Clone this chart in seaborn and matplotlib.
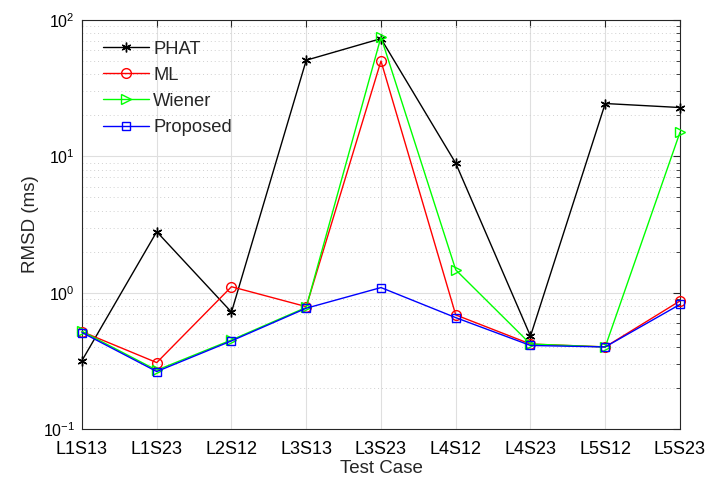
import matplotlib
matplotlib.use("Agg")
import matplotlib.pyplot as plt
import seaborn as sns
import pandas as pd
import numpy as np
from matplotlib.ticker import LogLocator, NullFormatter

categories = ["L1S13", "L1S23", "L2S12", "L3S13", "L3S23", "L4S12", "L4S23", "L5S12", "L5S23"]
phat = [0.318, 2.8, 0.72, 50.7, 73.0, 8.9, 0.48, 24.4, 22.8]
ml = [0.518, 0.307, 1.106, 0.79, 50.0, 0.687, 0.42, 0.40, 0.87]
wiener = [0.52, 0.27, 0.45, 0.78, 75.0, 1.47, 0.42, 0.40, 15.0]
proposed = [0.51, 0.264, 0.443, 0.769, 1.09, 0.656, 0.41, 0.40, 0.82]

sns.set_style("white")
plt.rcParams['font.family'] = ['Liberation Sans', 'DejaVu Sans']
plt.rcParams['mathtext.fontset'] = 'custom'
plt.rcParams['mathtext.rm'] = 'Liberation Sans'
plt.rcParams['mathtext.it'] = 'Liberation Sans'

fig = plt.figure(figsize=(7.05, 4.84), dpi=100)
ax = fig.add_axes([0.1163, 0.1136, 0.8482, 0.8451])

series = [
    ("PHAT", phat, "black", (6, 2, 0), 7, 1.0),
    ("ML", ml, "#ff0000", "o", 7, 1.0),
    ("Wiener", wiener, "#00ff00", ">", 7, 1.0),
    ("Proposed", proposed, "#0000ff", "s", 5.5, 1.0),
]
for name, vals, color, mk, ms, mew in series:
    df = pd.DataFrame({"case": categories, "val": vals})
    sns.lineplot(data=df, x="case", y="val", ax=ax, color=color, marker=mk,
                 markersize=ms, markerfacecolor="none", markeredgecolor=color,
                 markeredgewidth=mew, linewidth=1.0, label=name, sort=False,
                 clip_on=False, zorder=3)

ax.set_yscale("log")
ax.set_ylim(0.1, 100)
ax.set_xlim(0, len(categories) - 1)
ax.set_xticks(range(len(categories)))
ax.set_xticklabels(categories)
ax.yaxis.set_major_locator(LogLocator(base=10, numticks=10))
ax.yaxis.set_minor_locator(LogLocator(base=10, subs=np.arange(2, 10), numticks=20))
ax.yaxis.set_minor_formatter(NullFormatter())

ax.grid(True, which="major", color="#dfdfdf", linewidth=0.8, linestyle="-")
ax.grid(True, which="minor", axis="y", color="#d0d0d0", linewidth=0.7, linestyle=(0, (1, 3)))
ax.set_axisbelow(True)

for s in ax.spines.values():
    s.set_color("#262626")
    s.set_linewidth(0.8)
ax.tick_params(which="both", direction="in", top=True, right=True, colors="#262626",
               labelcolor="black")
ax.tick_params(axis="x", which="major", length=5, labelsize=13, pad=8.5)
ax.tick_params(axis="y", which="major", length=5, labelsize=11.5, pad=5)
ax.tick_params(which="minor", length=3)
ax.tick_params(axis="x", which="minor", bottom=False, top=False)

ax.set_xlabel("Test Case", fontsize=13.5, labelpad=1.5)
ax.set_ylabel("RMSD (ms)", fontsize=13.5, labelpad=3)

leg = ax.legend(loc="upper left", frameon=False, fontsize=13.2, handlelength=2.5,
                handletextpad=0.25, labelspacing=0.5, bbox_to_anchor=(0.007, 0.99))

fig.savefig("out.png", dpi=100)
